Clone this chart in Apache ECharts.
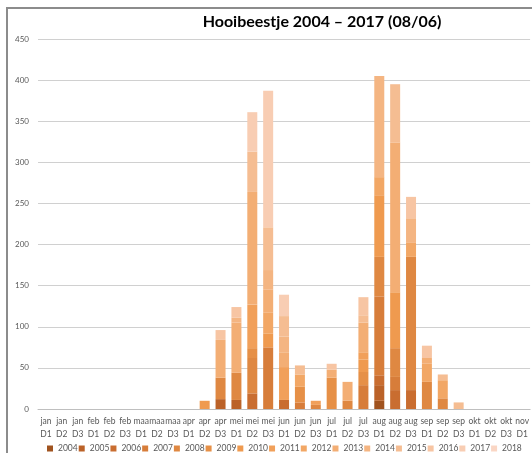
<!DOCTYPE html>
<html>
<head>
<meta charset="utf-8">
<script src="https://cdn.jsdelivr.net/npm/echarts@6/dist/echarts.min.js"></script>
<style>
  html, body { margin: 0; padding: 0; background: #ffffff; overflow: hidden; }
  #chart { position: absolute; left: 0; top: 0; width: 532px; height: 453px; }
  #frame { position: absolute; left: 6px; top: 7px; width: 600px; height: 500px;
           border-left: 2px solid #8c8c8c; border-top: 2px solid #8c8c8c; pointer-events: none; }
</style>
</head>
<body>
<div id="chart"></div>
<div id="frame"></div>
<script>
// decaden per maand (D1/D2/D3), rechts afgesneden na nov D1
const categories = [
  'jan\nD1', 'jan\nD2', 'jan\nD3', 'feb\nD1', 'feb\nD2', 'feb\nD3',
  'maa\nD1', 'maa\nD2', 'maa\nD3', 'apr\nD1', 'apr\nD2', 'apr\nD3',
  'mei\nD1', 'mei\nD2', 'mei\nD3', 'jun\nD1', 'jun\nD2', 'jun\nD3',
  'jul\nD1', 'jul\nD2', 'jul\nD3', 'aug\nD1', 'aug\nD2', 'aug\nD3',
  'sep\nD1', 'sep\nD2', 'sep\nD3', 'okt\nD1', 'okt\nD2', 'okt\nD3', 'nov\nD1'
];

const years = ['2004', '2005', '2006', '2007', '2008', '2009', '2010', '2011',
               '2012', '2013', '2014', '2015', '2016', '2017', '2018'];

//                 jan      feb      maa      apr        mei          jun         jul          aug           sep        okt     nov
const y2004 = [0,0,0, 0,0,0, 0,0,0, 0,0,0,   0,0,0,      0,0,0,      0,0,0,       10,0,0,       0,0,0,     0,0,0,  0];
const y2005 = [0,0,0, 0,0,0, 0,0,0, 0,0,12,  11,0,0,     0,0,0,      0,0,0,       19,0,0,       0,0,0,     0,0,0,  0];
const y2006 = [0,0,0, 0,0,0, 0,0,0, 0,0,0,   0,19,0,     11,0,0,     0,0,0,       12,23,23,     0,0,0,     0,0,0,  0];
const y2007 = [0,0,0, 0,0,0, 0,0,0, 0,0,0,   0,0,75,     0,8,0,      0,0,29,      96,16,0,      0,0,0,     0,0,0,  0];
const y2008 = [0,0,0, 0,0,0, 0,0,0, 0,0,26,  33,43,0,    0,0,5,      0,10,0,      48,35,162,    33,13,0,   0,0,0,  0];
const y2009 = [0,0,0, 0,0,0, 0,0,0, 0,0,0,   0,12,0,     0,19,0,     38,0,16,     0,0,0,        0,0,0,     0,0,0,  0];
const y2010 = [0,0,0, 0,0,0, 0,0,0, 0,10,0,  0,0,17,     0,0,0,      0,0,15,      75,68,0,      0,0,0,     0,0,0,  0];
const y2011 = [0,0,0, 0,0,0, 0,0,0, 0,0,0,   0,53,0,     40,0,5,     0,0,9,       0,0,0,        0,0,0,     0,0,0,  0];
const y2012 = [0,0,0, 0,0,0, 0,0,0, 0,0,0,   0,0,25,     0,15,0,     0,0,0,       22,0,17,      22,22,0,   0,0,0,  0];
const y2013 = [0,0,0, 0,0,0, 0,0,0, 0,0,46,  61,137,28,  18,0,0,     10,23,36,    0,182,0,      7,0,0,     0,0,0,  0];
const y2014 = [0,0,0, 0,0,0, 0,0,0, 0,0,0,   6,0,24,     19,0,0,     0,0,0,       123,0,30,     0,0,0,     0,0,0,  0];
const y2015 = [0,0,0, 0,0,0, 0,0,0, 0,0,0,   0,49,52,    25,11,0,    0,0,9,       0,71,0,       0,7,8,     0,0,0,  0];
const y2016 = [0,0,0, 0,0,0, 0,0,0, 0,0,12,  13,0,0,     0,0,0,      7,0,22,      0,0,26,       15,0,0,    0,0,0,  0];
const y2017 = [0,0,0, 0,0,0, 0,0,0, 0,0,0,   0,48,166,   26,0,0,     0,0,0,       0,0,0,        0,0,0,     0,0,0,  0];
const y2018 = [0,0,0, 0,0,0, 0,0,0, 0,0,0,   0,0,0,      0,0,0,      0,0,0,       0,0,0,        0,0,0,     0,0,0,  0];

const yearData = [y2004, y2005, y2006, y2007, y2008, y2009, y2010, y2011,
                  y2012, y2013, y2014, y2015, y2016, y2017, y2018];

// oranje monochroom palet, donker -> licht
const colors = ['#a0531f', '#bb6228', '#c96d30', '#d77d3a', '#df8842', '#e69047', '#ef9a4f',
                '#f1a05a', '#f2a765', '#f3ae74', '#f4b582', '#f5bd92', '#f7c5a3', '#f8cdb3', '#fad6c4'];

const chart = echarts.init(document.getElementById('chart'));

const option = {
  backgroundColor: '#ffffff',
  color: colors,
  animation: false,
  title: {
    text: 'Hooibeestje 2004 \u2013 2017 (08/06)',
    left: 317,
    top: 9,
    textAlign: 'center',
    textStyle: {
      fontFamily: 'Lato',
      fontWeight: 'bold',
      fontSize: 16,
      color: '#000000'
    }
  },
  legend: {
    data: years,
    left: 47,
    top: 444,
    padding: 0,
    itemWidth: 6,
    itemHeight: 6,
    itemGap: 1,
    icon: 'rect',
    textStyle: {
      fontFamily: 'Lato',
      fontSize: 8.5,
      color: '#595959'
    }
  },
  grid: {
    left: 38,
    top: 39,
    width: 496,
    height: 370,
    containLabel: false
  },
  xAxis: {
    type: 'category',
    data: categories,
    axisLine: { show: true, lineStyle: { color: '#bfbfbf', width: 1 } },
    axisTick: { show: false },
    axisLabel: {
      interval: 0,
      margin: 6,
      fontFamily: 'Lato',
      fontSize: 8.5,
      lineHeight: 13,
      color: '#595959'
    }
  },
  yAxis: {
    type: 'value',
    min: 0,
    max: 450,
    interval: 50,
    axisLine: { show: false },
    axisTick: { show: false },
    splitLine: { lineStyle: { color: '#d0d0d0', width: 1 } },
    axisLabel: {
      margin: 9,
      fontFamily: 'Lato',
      fontSize: 8,
      color: '#595959'
    }
  },
  series: years.map(function (name, i) {
    return {
      name: name,
      type: 'bar',
      stack: 'totaal',
      barWidth: 10,
      data: yearData[i]
    };
  })
};

chart.setOption(option);
</script>
</body>
</html>
